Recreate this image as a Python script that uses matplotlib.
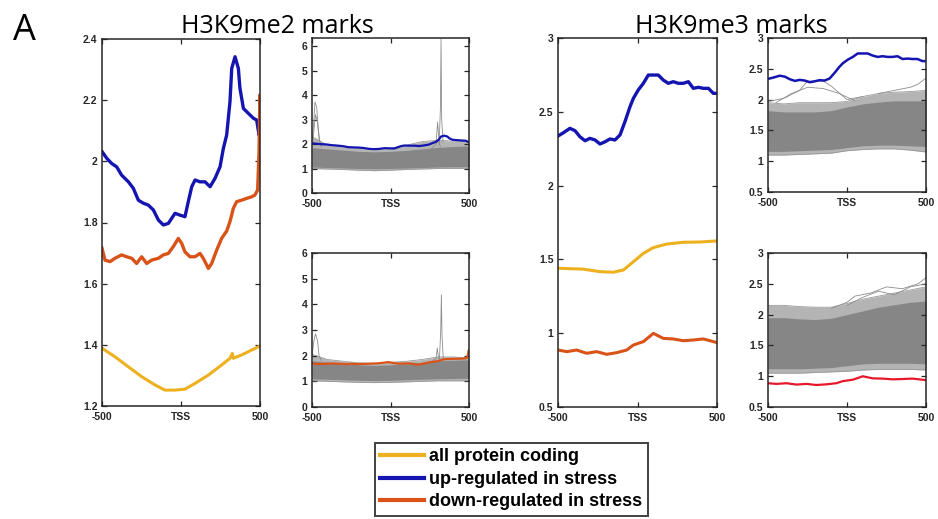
import numpy as np
import matplotlib; matplotlib.use("Agg")
import matplotlib.pyplot as plt
from matplotlib.ticker import FormatStrFormatter

# ---- data (x = position relative to TSS) ----
# H3K9me2, up-regulated (blue)
me2_up_x = [-500, -470, -439, -407, -376, -333, -302, -270, -238, -207, -175, -143, -112, -80, -38, -6,
            25, 46, 68, 89, 120, 152, 184, 215, 247, 268, 289, 310, 321, 342, 363, 373, 395, 426, 458, 479, 494, 500]
me2_up_y = [2.032, 2.010, 1.993, 1.982, 1.955, 1.933, 1.912, 1.873, 1.863, 1.857, 1.841, 1.808, 1.792, 1.797, 1.830, 1.824,
            1.819, 1.868, 1.917, 1.939, 1.933, 1.933, 1.917, 1.944, 1.982, 2.042, 2.086, 2.195, 2.304, 2.342, 2.304, 2.239, 2.173, 2.157, 2.141, 2.135, 2.086, 2.10]
# H3K9me2, down-regulated (orange)
me2_dn_x = [-500, -481, -449, -418, -376, -344, -312, -281, -249, -217, -186, -143, -112, -80, -49, -17,
            4, 25, 57, 89, 120, 141, 173, 194, 226, 257, 289, 310, 331, 352, 384, 416, 447, 468, 485, 494, 499, 500]
me2_dn_y = [1.716, 1.677, 1.672, 1.683, 1.694, 1.688, 1.683, 1.666, 1.688, 1.666, 1.677, 1.683, 1.694, 1.699, 1.721, 1.748,
            1.732, 1.704, 1.688, 1.688, 1.699, 1.683, 1.650, 1.666, 1.710, 1.748, 1.772, 1.803, 1.846, 1.868, 1.873, 1.879, 1.884, 1.890, 1.906, 2.031, 2.217, 2.108]
# H3K9me2, all protein coding (yellow)
me2_all_x = [-500, -418, -333, -249, -165, -102, -38, 25, 89, 173, 257, 310, 325, 331, 384, 447, 500]
me2_all_y = [1.389, 1.361, 1.328, 1.296, 1.269, 1.252, 1.252, 1.255, 1.274, 1.301, 1.334, 1.356, 1.372, 1.356, 1.367, 1.383, 1.396]

# H3K9me3, up-regulated (blue)
me3_up_x = [-500, -466, -425, -393, -362, -330, -299, -267, -236, -204, -173, -142, -110, -79, -47, -26,
            5, 37, 68, 100, 131, 162, 194, 225, 257, 288, 320, 351, 383, 414, 446, 477, 500]
me3_up_y = [2.336, 2.358, 2.388, 2.372, 2.331, 2.304, 2.320, 2.309, 2.282, 2.297, 2.316, 2.309, 2.343, 2.433, 2.535, 2.591,
            2.648, 2.693, 2.749, 2.749, 2.749, 2.715, 2.693, 2.704, 2.693, 2.693, 2.704, 2.659, 2.666, 2.659, 2.659, 2.625, 2.625]
# H3K9me3, down-regulated (orange / red)
me3_dn_x = [-500, -445, -383, -320, -257, -194, -131, -68, -26, 37, 100, 162, 225, 288, 351, 414, 477, 500]
me3_dn_y = [0.886, 0.875, 0.886, 0.864, 0.875, 0.857, 0.868, 0.886, 0.920, 0.943, 0.999, 0.965, 0.961, 0.949, 0.954, 0.961, 0.943, 0.936]
# H3K9me3, all protein coding (yellow)
me3_all_x = [-500, -341, -236, -152, -89, -26, 37, 100, 184, 288, 393, 500]
me3_all_y = [1.440, 1.434, 1.417, 1.413, 1.428, 1.484, 1.541, 1.580, 1.604, 1.616, 1.618, 1.625]

# grey bundles of individual genes: envelopes
band_x = [-500, -400, -300, -200, -100, 0, 100, 200, 300, 400, 500]
me2_up_outer_lo = [1.00, 0.98, 0.96, 0.93, 0.91, 0.93, 0.96, 0.98, 1.00, 1.00, 1.00]
me2_up_core_lo = [1.06, 1.04, 1.02, 1.00, 0.99, 1.00, 1.02, 1.04, 1.06, 1.07, 1.07]
me2_up_core_hi = [1.85, 1.80, 1.75, 1.70, 1.68, 1.70, 1.74, 1.80, 1.86, 1.90, 1.92]
me2_up_outer_hi = [2.30, 1.95, 1.88, 1.82, 1.78, 1.82, 1.95, 2.10, 2.15, 2.12, 2.10]
me2_dn_outer_lo = [1.02, 1.00, 0.98, 0.96, 0.95, 0.96, 0.98, 1.00, 1.02, 1.02, 1.02]
me2_dn_core_lo = [1.10, 1.08, 1.06, 1.04, 1.03, 1.04, 1.06, 1.08, 1.10, 1.11, 1.12]
me2_dn_core_hi = [1.80, 1.74, 1.68, 1.64, 1.62, 1.64, 1.68, 1.74, 1.80, 1.82, 1.84]
me2_dn_outer_hi = [2.05, 1.85, 1.78, 1.72, 1.70, 1.74, 1.78, 1.85, 1.95, 1.95, 1.90]
me3_up_outer_lo = [1.10, 1.10, 1.11, 1.12, 1.13, 1.17, 1.19, 1.20, 1.20, 1.18, 1.15]
me3_up_core_lo = [1.16, 1.16, 1.17, 1.18, 1.19, 1.22, 1.25, 1.26, 1.26, 1.25, 1.24]
me3_up_core_hi = [1.82, 1.80, 1.80, 1.80, 1.82, 1.88, 1.93, 1.96, 1.98, 1.98, 1.98]
me3_up_outer_hi = [1.95, 1.93, 1.95, 1.95, 1.95, 1.97, 2.05, 2.10, 2.12, 2.13, 2.15]
me3_dn_outer_lo = [1.05, 1.05, 1.05, 1.06, 1.07, 1.08, 1.10, 1.11, 1.11, 1.11, 1.10]
me3_dn_core_lo = [1.12, 1.12, 1.12, 1.13, 1.14, 1.17, 1.20, 1.21, 1.21, 1.21, 1.20]
me3_dn_core_hi = [1.95, 1.95, 1.93, 1.92, 1.94, 2.00, 2.06, 2.12, 2.16, 2.20, 2.22]
me3_dn_outer_hi = [2.15, 2.15, 2.13, 2.12, 2.12, 2.18, 2.25, 2.30, 2.35, 2.40, 2.45]

# a few outlier genes that stick out of the bundles
me2_up_spikes = [([-500, -490, -481, -470, -460, -450, -440], [2.0, 2.8, 3.72, 3.5, 2.6, 2.1, 1.9]),
                 ([-500, -490, -478, -465, -455, -440], [1.9, 2.4, 3.2, 2.9, 2.2, 1.9]),
                 ([260, 290, 300, 310, 320], [1.8, 2.0, 2.9, 2.0, 1.9]),
                 ([310, 318, 322, 326, 335], [2.0, 3.5, 6.3, 3.0, 2.1])]
me2_dn_spikes = [([-500, -490, -478, -465, -455, -440], [1.9, 2.5, 2.85, 2.6, 2.0, 1.8]),
                 ([270, 290, 298, 306, 320], [1.8, 1.9, 2.3, 1.9, 1.8]),
                 ([312, 320, 324, 328, 336], [1.9, 3.0, 4.37, 2.8, 1.9])]
me3_up_spikes = [([-500, -400, -300, -250, -150, -100, 0, 100], [1.97, 2.02, 2.15, 2.30, 2.30, 2.22, 2.00, 2.05]),
                 ([-450, -350, -250, -150, -50, 50], [1.95, 2.10, 2.20, 2.18, 2.10, 1.98]),
                 ([200, 300, 400, 450, 500], [2.10, 2.15, 2.20, 2.25, 2.35])]
me3_dn_spikes = [([-100, 0, 50, 150, 250, 350, 450, 500], [2.10, 2.20, 2.30, 2.35, 2.45, 2.42, 2.50, 2.60]),
                 ([0, 100, 200, 300, 400, 500], [2.15, 2.28, 2.38, 2.32, 2.45, 2.50])]

YEL, BLU, ORA, RED, GRY = "#edb120", "#1414b0", "#d95319", "#e8182c", "#868686"
TXT = "#262626"
W, H = 938, 519

fig = plt.figure(figsize=(W / 100, H / 100), dpi=100)


def px_axes(l, t, r, b):
    return fig.add_axes([l / W, 1 - b / H, (r - l) / W, (b - t) / H])


def style(ax, ylim, yticks):
    ax.set_xlim(-500, 500); ax.set_ylim(*ylim)
    ax.set_xticks([-500, 0, 500]); ax.set_xticklabels(["-500", "TSS", "500"])
    ax.set_yticks(yticks); ax.yaxis.set_major_formatter(FormatStrFormatter("%g"))
    ax.tick_params(direction="in", top=True, right=True, length=3.5, width=0.9, colors=TXT)
    ax.tick_params(axis="x", pad=4.5); ax.tick_params(axis="y", pad=3.2)
    for lab in ax.get_xticklabels() + ax.get_yticklabels():
        lab.set_fontfamily("Liberation Sans"); lab.set_fontweight("bold"); lab.set_fontsize(7.5)
    for s in ax.spines.values():
        s.set_color(TXT); s.set_linewidth(1.1)


def bundle(ax, olo, clo, chi, ohi, spikes):
    ax.fill_between(band_x, olo, ohi, color="#b4b4b4", lw=0)
    ax.fill_between(band_x, clo, chi, color=GRY, lw=0)
    for yy in (olo, ohi):
        ax.plot(band_x, yy, color="#999999", lw=0.6)
    for sx, sy in spikes:
        ax.plot(sx, sy, color="#8c8c8c", lw=0.6)


# big panel H3K9me2
ax = px_axes(102, 39, 260, 406)
l_all, = ax.plot(me2_all_x, me2_all_y, color=YEL, lw=2.2)
l_up, = ax.plot(me2_up_x, me2_up_y, color=BLU, lw=2.4)
l_dn, = ax.plot(me2_dn_x, me2_dn_y, color=ORA, lw=2.4)
style(ax, (1.2, 2.4), np.arange(1.2, 2.41, 0.2))

ax = px_axes(312, 38, 469, 193)
bundle(ax, me2_up_outer_lo, me2_up_core_lo, me2_up_core_hi, me2_up_outer_hi, me2_up_spikes)
ax.plot(me2_up_x, me2_up_y, color=BLU, lw=1.6)
style(ax, (0, 6.33), range(0, 7))

ax = px_axes(312, 253, 469, 407)
bundle(ax, me2_dn_outer_lo, me2_dn_core_lo, me2_dn_core_hi, me2_dn_outer_hi, me2_dn_spikes)
ax.plot(me2_dn_x, me2_dn_y, color=ORA, lw=1.6)
style(ax, (0, 6), range(0, 7))

# big panel H3K9me3
ax = px_axes(558, 38, 717, 407)
ax.plot(me3_all_x, me3_all_y, color=YEL, lw=2.2)
ax.plot(me3_up_x, me3_up_y, color=BLU, lw=2.4)
ax.plot(me3_dn_x, me3_dn_y, color=ORA, lw=2.2)
style(ax, (0.5, 3), np.arange(0.5, 3.01, 0.5))

ax = px_axes(768, 38, 926, 192)
bundle(ax, me3_up_outer_lo, me3_up_core_lo, me3_up_core_hi, me3_up_outer_hi, me3_up_spikes)
ax.plot(me3_up_x, me3_up_y, color=BLU, lw=1.8)
style(ax, (0.5, 3), np.arange(0.5, 3.01, 0.5))

ax = px_axes(768, 253, 926, 407)
bundle(ax, me3_dn_outer_lo, me3_dn_core_lo, me3_dn_core_hi, me3_dn_outer_hi, me3_dn_spikes)
ax.plot(me3_dn_x, me3_dn_y, color=RED, lw=1.6)
style(ax, (0.5, 3), np.arange(0.5, 3.01, 0.5))

# labels
fig.text(13 / W, 1 - 40 / H, "A", fontsize=26, family="Open Sans", va="baseline")
fig.text(277 / W, 1 - 33 / H, "H3K9me2 marks", fontsize=18, family="Open Sans", ha="center", va="baseline")
fig.text(731 / W, 1 - 33 / H, "H3K9me3 marks", fontsize=18, family="Open Sans", ha="center", va="baseline")

leg = fig.legend([l_all, l_up, l_dn], ["all protein coding", "up-regulated in stress", "down-regulated in stress"],
                 loc="upper left", bbox_to_anchor=(375 / W, 1 - 443 / H), borderaxespad=0,
                 prop=dict(family="Liberation Sans", weight="bold", size=13),
                 handlelength=2.4, handletextpad=0.3, labelspacing=0.3, borderpad=0.3,
                 fancybox=False, framealpha=1)
leg.get_frame().set_edgecolor("#404040"); leg.get_frame().set_linewidth(1.4)
for h in leg.get_lines():
    h.set_linewidth(3)

fig.savefig("out.png", dpi=100)
